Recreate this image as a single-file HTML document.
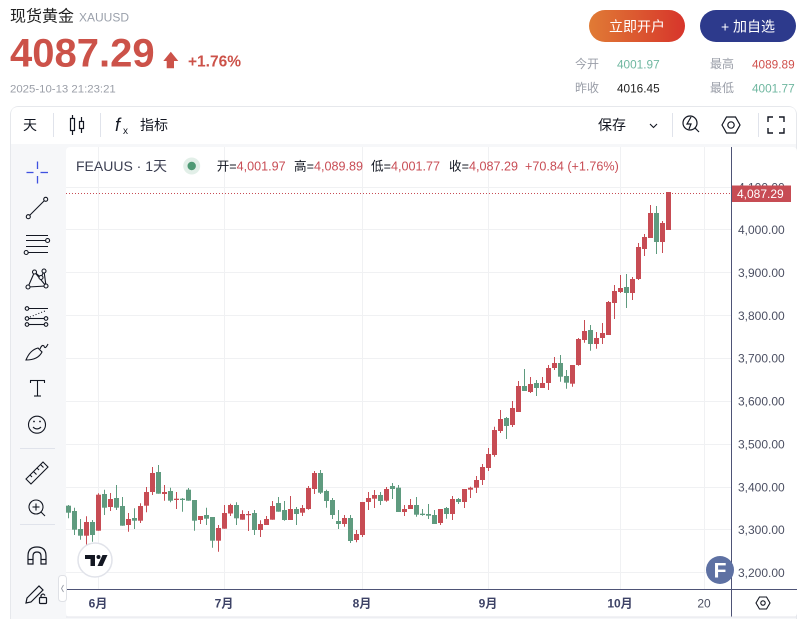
<!DOCTYPE html>
<html>
<head>
<meta charset="utf-8">
<style>
html,body{margin:0;padding:0;background:#fff;}
body{width:800px;height:619px;overflow:hidden;position:relative;font-family:"Liberation Sans","Noto Sans CJK SC",sans-serif;}
svg{position:absolute;left:0;top:0;}
text{font-family:"Liberation Sans","Noto Sans CJK SC",sans-serif;}
</style>
</head>
<body>
<svg width="800" height="619" viewBox="0 0 800 619" xmlns="http://www.w3.org/2000/svg">
<defs>
<linearGradient id="gbtn" x1="0" y1="0" x2="1" y2="0">
<stop offset="0" stop-color="#e07b35"/>
<stop offset="1" stop-color="#d7352b"/>
</linearGradient>
<clipPath id="plot"><rect x="66" y="147" width="665.5" height="442"/></clipPath>
</defs>

<!-- Header -->
<text x="10" y="21.5" font-size="16" fill="#222">现货黄金</text>
<text x="79" y="21.5" font-size="12" fill="#9aa0ab">XAUUSD</text>
<text x="10" y="66.6" font-size="40" font-weight="bold" fill="#cc5249">4087.29</text>
<polygon points="170.8,51.7 178.3,61 174,61 174,68.3 166.7,68.3 166.7,61 163.3,61" fill="#cc5249"/>
<text x="188" y="66.6" font-size="15.5" font-weight="bold" fill="#cc5249">+1.76%</text>
<text x="10" y="92.5" font-size="11.4" fill="#9b9fa8">2025-10-13 21:23:21</text>

<rect x="589" y="10" width="96" height="32" rx="16" fill="url(#gbtn)"/>
<text x="637" y="31.3" font-size="14" fill="#fff" text-anchor="middle">立即开户</text>
<rect x="700" y="10" width="96" height="32" rx="16" fill="#2d3a8c"/>
<text x="748" y="31.3" font-size="14" fill="#fff" text-anchor="middle">+ 加自选</text>

<text x="575" y="67.8" font-size="12" fill="#9a9ea8">今开</text>
<text x="617" y="68.3" font-size="11.8" fill="#6fb7a0">4001.97</text>
<text x="710" y="67.8" font-size="12" fill="#9a9ea8">最高</text>
<text x="752" y="68.3" font-size="11.8" fill="#d0504c">4089.89</text>
<text x="575" y="92" font-size="12" fill="#9a9ea8">昨收</text>
<text x="617" y="92.3" font-size="11.8" fill="#222">4016.45</text>
<text x="710" y="92" font-size="12" fill="#9a9ea8">最低</text>
<text x="752" y="92.3" font-size="11.8" fill="#6fb7a0">4001.77</text>

<!-- Widget frame -->
<rect x="10.5" y="106.5" width="786" height="530" rx="8" fill="#f6f7f9" stroke="#e6e8ec"/>
<path d="M11 144 V114.5 Q11 107 18.5 107 H788.5 Q796 107 796 114.5 V144 Z" fill="#fff"/>
<rect x="66" y="147" width="731" height="470" rx="4" fill="#fff"/>

<!-- Toolbar -->
<text x="23" y="130" font-size="14" fill="#131722">天</text>
<line x1="53.5" y1="113" x2="53.5" y2="137" stroke="#e0e3eb"/>
<g stroke="#131722" stroke-width="1.2" fill="none">
<line x1="72.5" y1="115" x2="72.5" y2="135"/>
<rect x="70.5" y="118.5" width="4" height="12" fill="#fff"/>
<line x1="81.5" y1="117" x2="81.5" y2="133"/>
<rect x="79.5" y="121.5" width="4" height="7" fill="#fff"/>
</g>
<line x1="100.5" y1="113" x2="100.5" y2="137" stroke="#e0e3eb"/>
<text x="115" y="131" font-size="18" font-style="italic" font-family="Liberation Serif, serif" fill="#131722">f</text>
<text x="123" y="134" font-size="10" fill="#131722">x</text>
<text x="140" y="130" font-size="14" fill="#131722">指标</text>
<text x="598" y="130" font-size="14" fill="#131722">保存</text>
<polyline points="650,124 653.5,127.5 657,124" fill="none" stroke="#131722" stroke-width="1.1"/>
<line x1="672.5" y1="113" x2="672.5" y2="137" stroke="#e0e3eb"/>
<g stroke="#131722" stroke-width="1.2" fill="none">
<circle cx="690" cy="123" r="7"/>
<line x1="695" y1="128" x2="699" y2="132"/>
<polyline points="691,117 687,124 691,124 689,129"/>
<polygon points="722,125 726.5,117 735.5,117 740,125 735.5,133 726.5,133"/>
<circle cx="731" cy="125" r="3.2"/>
</g>
<line x1="758.5" y1="113" x2="758.5" y2="137" stroke="#e0e3eb"/>
<g stroke="#131722" stroke-width="1.4" fill="none">
<polyline points="768,122 768,117 773,117"/>
<polyline points="779,117 784,117 784,122"/>
<polyline points="768,128 768,133 773,133"/>
<polyline points="779,133 784,133 784,128"/>
</g>

<!-- Left tools -->
<g stroke="#3f51e0" stroke-width="1.3">
<line x1="26.5" y1="172.5" x2="33.5" y2="172.5"/>
<line x1="40.5" y1="172.5" x2="48" y2="172.5"/>
<line x1="37.5" y1="161.5" x2="37.5" y2="169"/>
<line x1="37.5" y1="176" x2="37.5" y2="183.5"/>
</g>
<g stroke="#131722" stroke-width="1.1" fill="none">
<line x1="29.5" y1="215.5" x2="44.5" y2="200.5"/>
<circle cx="28.3" cy="216.7" r="2"/><circle cx="45.7" cy="199.3" r="2"/>
<line x1="26" y1="235.5" x2="48" y2="235.5"/>
<line x1="26" y1="240.5" x2="45.5" y2="240.5"/><circle cx="47.6" cy="240.5" r="2"/>
<line x1="26" y1="246.5" x2="48" y2="246.5"/>
<line x1="28.3" y1="252.5" x2="48" y2="252.5"/><circle cx="26.2" cy="252.5" r="2"/>
<polyline points="28,287 34.5,272 41,277.5 44,271 46,286 28,287"/>
<line x1="34.5" y1="272" x2="46" y2="286"/>
<circle cx="28" cy="287" r="2" fill="#f6f7f9"/><circle cx="34.5" cy="272" r="2" fill="#f6f7f9"/><circle cx="41" cy="277.5" r="2" fill="#f6f7f9"/><circle cx="44" cy="271" r="2" fill="#f6f7f9"/><circle cx="46" cy="286" r="2" fill="#f6f7f9"/>
<line x1="29" y1="308.5" x2="48" y2="308.5"/><circle cx="27" cy="308.5" r="1.8"/>
<line x1="30" y1="317" x2="45" y2="311" stroke-dasharray="1 2"/>
<line x1="29" y1="318.5" x2="44" y2="318.5"/><circle cx="27" cy="318.5" r="1.8"/><circle cx="46" cy="318.5" r="1.8"/>
<line x1="29" y1="324.5" x2="44" y2="324.5"/><circle cx="27" cy="324.5" r="1.8"/><circle cx="46" cy="324.5" r="1.8"/>
<path d="M26 360 Q30 350 38 348 L42 352 Q38 360 26 360 Z"/>
<path d="M40 349 Q42 344 44 346 Q45 350 48 344"/>
<line x1="30" y1="380.5" x2="45" y2="380.5"/><line x1="37.5" y1="380.5" x2="37.5" y2="396"/><line x1="34" y1="396" x2="41" y2="396"/>
<line x1="30.5" y1="380.5" x2="30.5" y2="383"/><line x1="44.5" y1="380.5" x2="44.5" y2="383"/>
<circle cx="37" cy="424.7" r="8.5"/>
<path d="M33 427 Q37 431 41 427"/>
</g>
<circle cx="34" cy="421.5" r="0.9" fill="#131722"/><circle cx="40" cy="421.5" r="0.9" fill="#131722"/>
<line x1="20" y1="448.5" x2="55" y2="448.5" stroke="#e0e3eb"/>
<g stroke="#131722" stroke-width="1.1" fill="none">
<polygon points="26,479 43,462 48,467 31,484"/>
<line x1="30" y1="475" x2="32" y2="477"/><line x1="33.5" y1="471.5" x2="36.5" y2="474.5"/><line x1="37" y1="468" x2="39" y2="470"/><line x1="40.5" y1="464.5" x2="43.5" y2="467.5"/>
<circle cx="36" cy="507" r="7"/>
<line x1="41" y1="512" x2="45" y2="516"/>
<line x1="32.5" y1="507" x2="39.5" y2="507"/><line x1="36" y1="503.5" x2="36" y2="510.5"/>
</g>
<line x1="20" y1="524.5" x2="55" y2="524.5" stroke="#e0e3eb"/>
<g stroke="#131722" stroke-width="1.2" fill="none">
<path d="M28 564 V556 Q28 547 37 547 Q46 547 46 556 V564 H41 V556 Q41 552 37 552 Q33 552 33 556 V564 Z"/>
<line x1="28" y1="559.5" x2="33" y2="559.5"/><line x1="41" y1="559.5" x2="46" y2="559.5"/>
<path d="M27 598 L39 586 L43 590 L31 602 L26 603 Z"/>
<rect x="39.5" y="597.5" width="7" height="6" rx="1"/>
<path d="M41 597.5 V595.5 Q43 592.5 45 595.5"/>
</g>

<!-- Grid -->
<g stroke="#f0f1f3" stroke-width="1">
<line x1="66" y1="187.5" x2="731" y2="187.5"/>
<line x1="66" y1="229.5" x2="731" y2="229.5"/>
<line x1="66" y1="272.5" x2="731" y2="272.5"/>
<line x1="66" y1="315.5" x2="731" y2="315.5"/>
<line x1="66" y1="358.5" x2="731" y2="358.5"/>
<line x1="66" y1="401.5" x2="731" y2="401.5"/>
<line x1="66" y1="444.5" x2="731" y2="444.5"/>
<line x1="66" y1="487.5" x2="731" y2="487.5"/>
<line x1="66" y1="529.5" x2="731" y2="529.5"/>
<line x1="66" y1="572.5" x2="731" y2="572.5"/>
<line x1="98.5" y1="147" x2="98.5" y2="589"/>
<line x1="224.5" y1="147" x2="224.5" y2="589"/>
<line x1="362.5" y1="147" x2="362.5" y2="589"/>
<line x1="488.5" y1="147" x2="488.5" y2="589"/>
<line x1="620.5" y1="147" x2="620.5" y2="589"/>
<line x1="704.5" y1="147" x2="704.5" y2="589"/>
</g>

<!-- Legend -->
<text x="76" y="171" font-size="14" fill="#3c3f52">FEAUUS · 1天</text>
<circle cx="191.7" cy="166" r="8.5" fill="#e2efe8"/>
<circle cx="191.7" cy="166" r="4.2" fill="#4f9a75"/>
<g font-size="12.6">
<text x="216.7" y="170.5" fill="#131722">开=<tspan fill="#c84d55">4,001.97</tspan></text>
<text x="294" y="170.5" fill="#131722">高=<tspan fill="#c84d55">4,089.89</tspan></text>
<text x="371" y="170.5" fill="#131722">低=<tspan fill="#c84d55">4,001.77</tspan></text>
<text x="449" y="170.5" fill="#131722">收=<tspan fill="#c84d55">4,087.29</tspan></text>
<text x="525" y="170.5" fill="#c84d55">+70.84 (+1.76%)</text>
</g>

<!-- Candles -->
<g clip-path="url(#plot)">
<g stroke="#5f9b7f" stroke-width="1" fill="#5f9b7f">
<path d="M68.5 505V518.3M74.5 507.7V535M80.5 519V539.7M92.5 520V541.7M104.5 489.7V515M116.5 485V510M122.5 497V525.7M134.5 508.3V529M158.5 465V493.7M170.5 487.7V502.3M182.5 498V511.7M188.5 488V500.7M194.5 500V530.7M206.5 507.7V525M212.5 517V547.7M236.5 502.3V525M254.5 510V535M278.5 497V511.7M284.5 501V520.7M296.5 507V525M320.5 470V494M326.5 489.7V507.7M332.5 498V519M338.5 510V529M350.5 515V543M380.5 492V505M392.5 483V499M398.5 485V512M416.5 497V516.7M422.5 509V515.7M428.5 504V519M434.5 510V524M446.5 507V518.7M458.5 498V504M506.5 417V439M524.5 369V391M536.5 380V396M560.5 355V381.7M566.5 370V388.7M590.5 325V350.7M626.5 274V308M656.5 206V254"/>
</g>
<g fill="#5f9b7f">
<rect x="66" y="505.7" width="5" height="7"/>
<rect x="72" y="511" width="5" height="18.7"/>
<rect x="78" y="529" width="5" height="6.7"/>
<rect x="90" y="522" width="5" height="13"/>
<rect x="102" y="494" width="5" height="13.7"/>
<rect x="114" y="498" width="5" height="9.7"/>
<rect x="120" y="506" width="5" height="19.7"/>
<rect x="132" y="518" width="5" height="2.7"/>
<rect x="156" y="472" width="5" height="21.7"/>
<rect x="168" y="491" width="5" height="9.7"/>
<rect x="180" y="498.7" width="5" height="1.3"/>
<rect x="186" y="489.7" width="5" height="11"/>
<rect x="192" y="500" width="5" height="20.7"/>
<rect x="204" y="515" width="5" height="3.7"/>
<rect x="210" y="517" width="5" height="23.7"/>
<rect x="234" y="505" width="5" height="13.3"/>
<rect x="252" y="513" width="5" height="17"/>
<rect x="276" y="503" width="5" height="8.7"/>
<rect x="282" y="510" width="5" height="10"/>
<rect x="294" y="509" width="5" height="5"/>
<rect x="318" y="473" width="5" height="19.7"/>
<rect x="324" y="491" width="5" height="10"/>
<rect x="330" y="500" width="5" height="15"/>
<rect x="336" y="521" width="5" height="3"/>
<rect x="348" y="518" width="5" height="23"/>
<rect x="378" y="495" width="5" height="6"/>
<rect x="390" y="486" width="5" height="3"/>
<rect x="396" y="487.7" width="5" height="24.3"/>
<rect x="414" y="505" width="5" height="9.7"/>
<rect x="420" y="513.7" width="5" height="1.3"/>
<rect x="426" y="514" width="5" height="1.7"/>
<rect x="432" y="515" width="5" height="9"/>
<rect x="444" y="508" width="5" height="6"/>
<rect x="456" y="499" width="5" height="3"/>
<rect x="504" y="418" width="5" height="8"/>
<rect x="522" y="386" width="5" height="5"/>
<rect x="534" y="383" width="5" height="5"/>
<rect x="558" y="363" width="5" height="13.7"/>
<rect x="564" y="376" width="5" height="6.7"/>
<rect x="588" y="330" width="5" height="14"/>
<rect x="624" y="287" width="5" height="6"/>
<rect x="654" y="213" width="5" height="29"/>
</g>
<g stroke="#c74c54" stroke-width="1">
<path d="M86.5 516.3V545M98.5 493.3V530.7M110.5 493V511M128.5 513V531.7M140.5 503.3V523M146.5 487V512.3M152.5 467V495M164.5 485V500.7M176.5 492V509M200.5 516V524M218.5 525V551.7M224.5 505V528.7M230.5 503.7V516M242.5 510.3V519.7M248.5 511V531M260.5 520.3V537M266.5 516V525M272.5 501V519.7M290.5 496V520M302.5 505V516M308.5 486V509.7M314.5 471V494M344.5 515V526.7M356.5 530V542.3M362.5 502V537M368.5 492V510M374.5 490V508M386.5 487V501.7M404.5 505V516M410.5 499V509M440.5 509V525M452.5 496V520M464.5 489V508M470.5 486.7V498M476.5 476V493M482.5 464V485M488.5 448V471M494.5 426.7V456.7M500.5 410V433M512.5 401V427M518.5 381V412M530.5 377V393M542.5 377V388M548.5 365V390M554.5 357V370M572.5 365V386.7M578.5 338V365.7M584.5 320V342.7M596.5 332V348.7M602.5 323V344M608.5 301V335M614.5 285V319M620.5 275V293M632.5 277V300M638.5 243V280M644.5 234V256M650.5 205V238M662.5 221V253M668.5 192V230"/>
</g>
<g fill="#c74c54">
<rect x="84" y="522" width="5" height="13.7"/>
<rect x="96" y="494.7" width="5" height="36"/>
<rect x="108" y="499" width="5" height="8"/>
<rect x="126" y="519" width="5" height="6"/>
<rect x="138" y="506" width="5" height="14.7"/>
<rect x="144" y="492" width="5" height="13.7"/>
<rect x="150" y="473" width="5" height="19"/>
<rect x="162" y="492" width="5" height="2"/>
<rect x="174" y="498.7" width="5" height="1.3"/>
<rect x="198" y="516" width="5" height="4"/>
<rect x="216" y="528" width="5" height="12.7"/>
<rect x="222" y="513" width="5" height="15.7"/>
<rect x="228" y="505" width="5" height="8.5"/>
<rect x="240" y="514" width="5" height="5.7"/>
<rect x="246" y="514" width="5" height="1.2"/>
<rect x="258" y="524" width="5" height="6"/>
<rect x="264" y="519" width="5" height="6"/>
<rect x="270" y="506" width="5" height="13.7"/>
<rect x="288" y="509" width="5" height="11"/>
<rect x="300" y="508" width="5" height="4.7"/>
<rect x="306" y="488" width="5" height="21"/>
<rect x="312" y="473" width="5" height="16"/>
<rect x="342" y="518" width="5" height="6"/>
<rect x="354" y="534" width="5" height="6"/>
<rect x="360" y="502" width="5" height="33"/>
<rect x="366" y="498" width="5" height="4"/>
<rect x="372" y="495" width="5" height="3.7"/>
<rect x="384" y="489" width="5" height="11.7"/>
<rect x="402" y="509" width="5" height="3"/>
<rect x="408" y="505" width="5" height="4"/>
<rect x="438" y="509" width="5" height="14"/>
<rect x="450" y="499" width="5" height="15"/>
<rect x="462" y="489" width="5" height="13"/>
<rect x="468" y="487.7" width="5" height="2"/>
<rect x="474" y="480" width="5" height="7.7"/>
<rect x="480" y="467" width="5" height="13"/>
<rect x="486" y="454" width="5" height="14"/>
<rect x="492" y="430" width="5" height="25"/>
<rect x="498" y="419" width="5" height="12"/>
<rect x="510" y="408" width="5" height="17"/>
<rect x="516" y="386" width="5" height="26"/>
<rect x="528" y="384" width="5" height="8"/>
<rect x="540" y="383" width="5" height="5"/>
<rect x="546" y="368" width="5" height="15"/>
<rect x="552" y="363" width="5" height="5"/>
<rect x="570" y="365" width="5" height="18.7"/>
<rect x="576" y="339" width="5" height="26"/>
<rect x="582" y="331" width="5" height="9"/>
<rect x="594" y="338" width="5" height="6"/>
<rect x="600" y="333" width="5" height="5"/>
<rect x="606" y="302" width="5" height="33"/>
<rect x="612" y="291" width="5" height="12"/>
<rect x="618" y="288" width="5" height="4"/>
<rect x="630" y="279" width="5" height="14"/>
<rect x="636" y="247" width="5" height="32"/>
<rect x="642" y="237" width="5" height="12"/>
<rect x="648" y="213" width="5" height="25"/>
<rect x="660" y="223" width="5" height="19"/>
<rect x="666" y="192" width="5" height="38"/>
</g>
</g>

<!-- Current price dotted line -->
<line x1="66" y1="193.5" x2="731" y2="193.5" stroke="#c74c54" stroke-width="1" stroke-dasharray="1 2"/>

<!-- Axes -->
<line x1="66" y1="589.5" x2="797" y2="589.5" stroke="#4e5376" stroke-width="1"/>
<line x1="731.5" y1="147" x2="731.5" y2="617" stroke="#4e5376" stroke-width="1"/>

<!-- Y labels -->
<g font-size="12" fill="#4c5063">
<text x="738" y="191.3">4,100.00</text>
<text x="738" y="234.1">4,000.00</text>
<text x="738" y="277">3,900.00</text>
<text x="738" y="319.8">3,800.00</text>
<text x="738" y="362.7">3,700.00</text>
<text x="738" y="405.6">3,600.00</text>
<text x="738" y="448.4">3,500.00</text>
<text x="738" y="491.3">3,400.00</text>
<text x="738" y="534.1">3,300.00</text>
<text x="738" y="577">3,200.00</text>
</g>
<rect x="732" y="185.5" width="59" height="16.5" fill="#c74c54"/>
<text x="737" y="198" font-size="12" fill="#fff">4,087.29</text>

<!-- X labels -->
<g font-size="12" font-weight="bold" fill="#3d4266" text-anchor="middle">
<text x="98" y="607.5">6月</text>
<text x="224" y="607.5">7月</text>
<text x="362" y="607.5">8月</text>
<text x="488" y="607.5">9月</text>
<text x="620" y="607.5">10月</text>
</g>
<text x="704" y="607.5" font-size="12" fill="#4c5063" text-anchor="middle">20</text>
<polygon points="756,603 759.5,597 766.5,597 770,603 766.5,609 759.5,609" fill="none" stroke="#131722" stroke-width="1.1"/>
<circle cx="763" cy="603" r="2.2" fill="none" stroke="#131722" stroke-width="1.1"/>

<!-- bottom border line -->
<line x1="66" y1="617" x2="797" y2="617" stroke="#e4e6eb"/>

<!-- TV logo -->
<circle cx="95" cy="560" r="17" fill="#fff" stroke="#e1e3ea" stroke-width="1.5"/>
<path d="M85 555 H95 V566 H90.5 V559 H85 Z" fill="#131722"/>
<circle cx="98.5" cy="557" r="2" fill="#131722"/>
<polygon points="102.5,555 107.5,555 102.5,566 97.5,566" fill="#131722"/>

<!-- F logo -->
<circle cx="720" cy="570" r="14" fill="#5e71a3"/>
<text x="720" y="577.5" font-size="21" font-weight="bold" fill="#fff" text-anchor="middle">F</text>

<!-- collapse tab -->
<rect x="58.5" y="575.5" width="8" height="26" rx="3" fill="#fff" stroke="#dfe1e6"/>
<polyline points="63.5,585 61.5,588.5 63.5,592" fill="none" stroke="#9a9ea8" stroke-width="0.9"/>
</svg>
</body>
</html>
